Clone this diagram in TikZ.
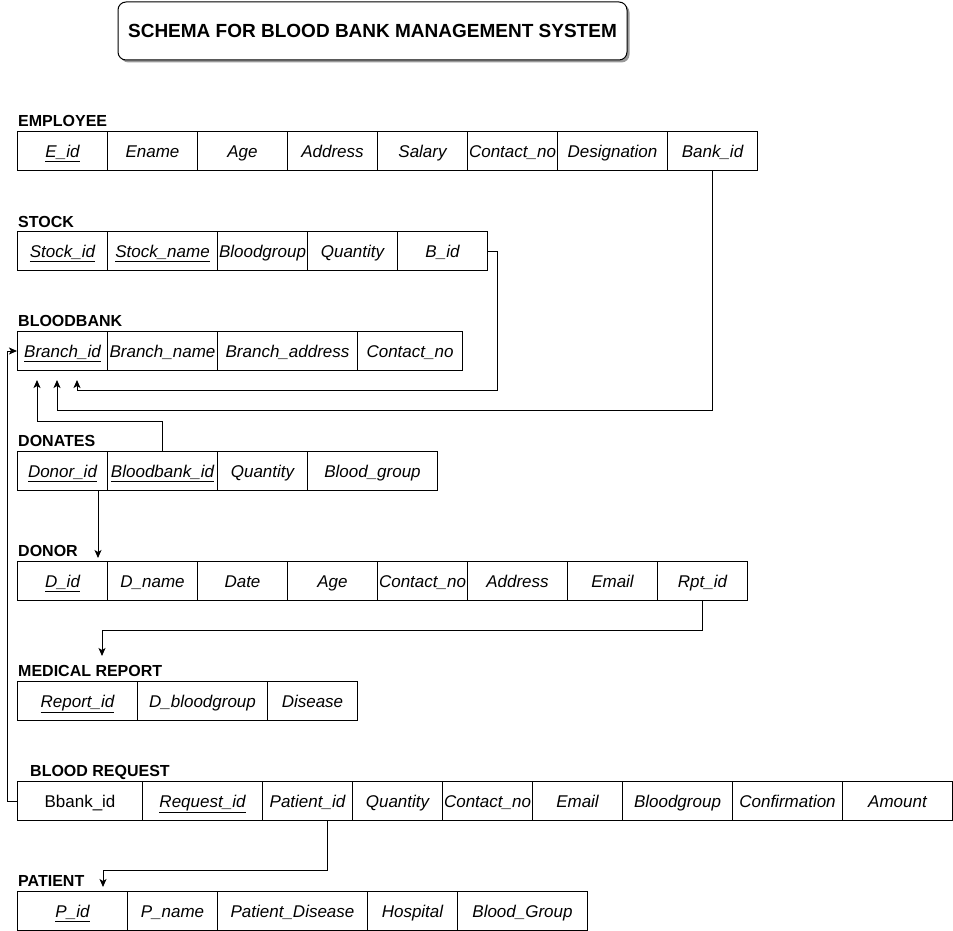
\documentclass[tikz,border=0pt]{standalone}
\usepackage{fontspec}
\setmainfont{Liberation Sans}
\usetikzlibrary{arrows.meta,shadows,calc}
\begin{document}
\begin{tikzpicture}[x=1pt,y=-1pt,
  cell/.style={draw, line width=1pt, minimum height=39pt, inner sep=0pt, anchor=north west,
    text height=14pt, text depth=1pt,
    font=\fontsize{17}{20}\selectfont\itshape},
  plain/.style={font=\fontsize{17}{20}\selectfont\upshape},
  tlabel/.style={anchor=base west, inner sep=0pt, font=\fontsize{16}{19}\selectfont\bfseries},
  conn/.style={draw, line width=1pt, -{Stealth[length=8pt,width=7pt,inset=2pt]}},
  titlebox/.style={draw, line width=1pt, rounded corners=8pt, fill=white,
    drop shadow={shadow xshift=2.5pt, shadow yshift=-2.5pt, opacity=0.4, fill=black},
    minimum width=509pt, minimum height=58pt, inner sep=0pt,
    font=\fontsize{19}{22}\selectfont\bfseries}
]
\useasboundingbox (0,0) rectangle (953,931);

% title
\node[titlebox] (title) at (372.5,31) {SCHEMA FOR BLOOD BANK MANAGEMENT SYSTEM};

% EMPLOYEE
\node[tlabel] (lemp) at (18,127) {EMPLOYEE};
\node[cell, minimum width=90pt] (e1) at (17,131) {\underline{E\_id}};
\node[cell, minimum width=90pt] (e2) at (107,131) {Ename};
\node[cell, minimum width=90pt] (e3) at (197,131) {Age};
\node[cell, minimum width=90pt] (e4) at (287,131) {Address};
\node[cell, minimum width=90pt] (e5) at (377,131) {Salary};
\node[cell, minimum width=90pt] (e6) at (467,131) {Contact\_no};
\node[cell, minimum width=110pt] (e7) at (557,131) {Designation};
\node[cell, minimum width=90pt] (e8) at (667,131) {Bank\_id};

% STOCK
\node[tlabel] (lstock) at (18,227) {STOCK};
\node[cell, minimum width=90pt] (s1) at (17,231) {\underline{Stock\_id}};
\node[cell, minimum width=110pt] (s2) at (107,231) {\underline{Stock\_name}};
\node[cell, minimum width=90pt] (s3) at (217,231) {Bloodgroup};
\node[cell, minimum width=90pt] (s4) at (307,231) {Quantity};
\node[cell, minimum width=90pt] (s5) at (397,231) {B\_id};

% BLOODBANK
\node[tlabel] (lbank) at (18,326) {BLOODBANK};
\node[cell, minimum width=90pt] (b1) at (17,331) {\underline{Branch\_id}};
\node[cell, minimum width=110pt] (b2) at (107,331) {Branch\_name};
\node[cell, minimum width=140pt] (b3) at (217,331) {Branch\_address};
\node[cell, minimum width=105pt] (b4) at (357,331) {Contact\_no};

% DONATES
\node[tlabel] (ldon) at (18,446) {DONATES};
\node[cell, minimum width=90pt] (d1) at (17,451) {\underline{Donor\_id}};
\node[cell, minimum width=110pt] (d2) at (107,451) {\underline{Bloodbank\_id}};
\node[cell, minimum width=90pt] (d3) at (217,451) {Quantity};
\node[cell, minimum width=130pt] (d4) at (307,451) {Blood\_group};

% DONOR
\node[tlabel] (ldonor) at (18,556) {DONOR};
\node[cell, minimum width=90pt] (o1) at (17,561) {\underline{D\_id}};
\node[cell, minimum width=90pt] (o2) at (107,561) {D\_name};
\node[cell, minimum width=90pt] (o3) at (197,561) {Date};
\node[cell, minimum width=90pt] (o4) at (287,561) {Age};
\node[cell, minimum width=90pt] (o5) at (377,561) {Contact\_no};
\node[cell, minimum width=100pt] (o6) at (467,561) {Address};
\node[cell, minimum width=90pt] (o7) at (567,561) {Email};
\node[cell, minimum width=90pt] (o8) at (657,561) {Rpt\_id};

% MEDICAL REPORT
\node[tlabel] (lmed) at (18,676) {MEDICAL REPORT};
\node[cell, minimum width=120pt] (m1) at (17,681) {\underline{Report\_id}};
\node[cell, minimum width=130pt] (m2) at (137,681) {D\_bloodgroup};
\node[cell, minimum width=90pt] (m3) at (267,681) {Disease};

% BLOOD REQUEST
\node[tlabel] (lreq) at (30,776) {BLOOD REQUEST};
\node[cell, plain, minimum width=125pt] (r1) at (17,781) {Bbank\_id};
\node[cell, minimum width=120pt] (r2) at (142,781) {\underline{Request\_id}};
\node[cell, minimum width=90pt] (r3) at (262,781) {Patient\_id};
\node[cell, minimum width=90pt] (r4) at (352,781) {Quantity};
\node[cell, minimum width=90pt] (r5) at (442,781) {Contact\_no};
\node[cell, minimum width=90pt] (r6) at (532,781) {Email};
\node[cell, minimum width=110pt] (r7) at (622,781) {Bloodgroup};
\node[cell, minimum width=110pt] (r8) at (732,781) {Confirmation};
\node[cell, minimum width=110pt] (r9) at (842,781) {Amount};

% PATIENT
\node[tlabel] (lpat) at (18,886) {PATIENT};
\node[cell, minimum width=110pt] (p1) at (17,891) {\underline{P\_id}};
\node[cell, minimum width=90pt] (p2) at (127,891) {P\_name};
\node[cell, minimum width=150pt] (p3) at (217,891) {Patient\_Disease};
\node[cell, minimum width=90pt] (p4) at (367,891) {Hospital};
\node[cell, minimum width=130pt] (p5) at (457,891) {Blood\_Group};

% connector end points
\coordinate (t1) at (77,380);
\coordinate (t2) at (57,380);
\coordinate (t3) at (37,380);
\coordinate (t4) at (102,656);
\coordinate (t5) at (103,887);

% connectors
\draw[conn] (s5.east) -| (497,390) -| (t1);
\draw[conn] (e8.south) -- (e8.south |- 0,410) -| (t2);
\draw[conn] (d2.north) -- (d2.north |- 0,421) -| (t3);
\draw[conn] (r1.west) -- ++(-10,0) |- (b1.west);
\draw[conn] ([xshift=-10pt]d1.south east) -- ([xshift=-10pt,yshift=3pt]o1.north east);
\draw[conn] (o8.south) -- (o8.south |- 0,630) -| (t4);
\draw[conn] ([xshift=20pt]r3.south) -- ([xshift=20pt]r3.south |- 0,870) -| (t5);
\end{tikzpicture}
\end{document}
